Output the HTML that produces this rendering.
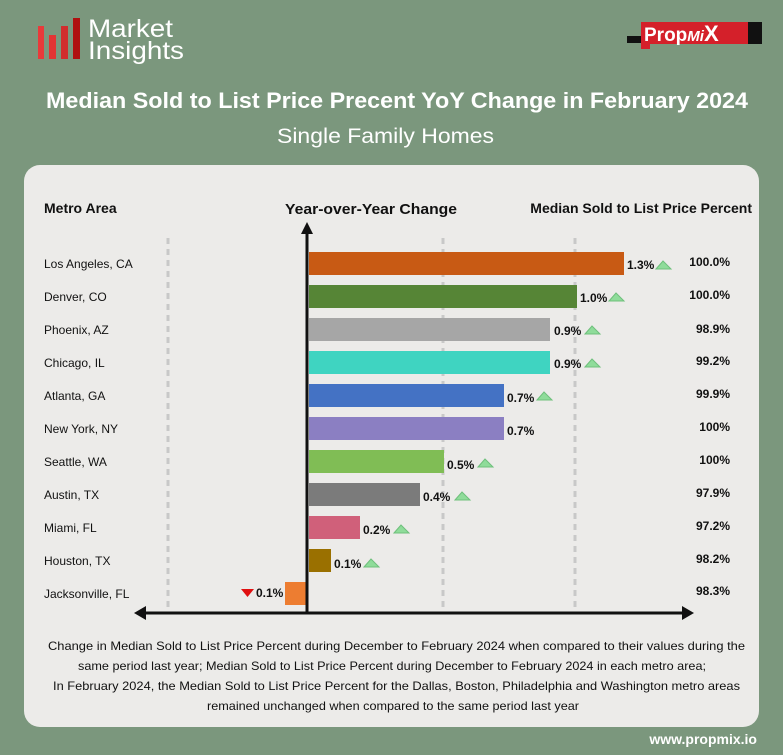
<!DOCTYPE html>
<html><head><meta charset="utf-8"><style>
html,body{margin:0;padding:0;width:783px;height:755px;overflow:hidden;background:#7b977d;}
svg{display:block;font-family:"Liberation Sans",sans-serif;}
</style></head><body>
<svg width="783" height="755" viewBox="0 0 783 755" xmlns="http://www.w3.org/2000/svg">
<rect width="783" height="755" fill="#7b977d"/>
<!-- logo -->
<rect x="38" y="26" width="6" height="33" fill="#e83a3a"/>
<rect x="49" y="35" width="7" height="24" fill="#e23434"/>
<rect x="61" y="26" width="7" height="33" fill="#d12d2d"/>
<rect x="73" y="18" width="7" height="41" fill="#b01010"/>
<text x="88" y="37" font-size="25" fill="#fff" textLength="85" lengthAdjust="spacingAndGlyphs">Market</text>
<text x="88" y="59" font-size="25" fill="#fff" textLength="96" lengthAdjust="spacingAndGlyphs">Insights</text>
<!-- propmix -->
<rect x="627" y="36" width="14" height="7" fill="#111"/>
<rect x="748" y="22" width="14" height="22" fill="#111"/>
<rect x="641" y="22" width="107" height="22" fill="#d4202a"/>
<rect x="641" y="44" width="9" height="5" fill="#d4202a"/>
<text x="644" y="41" font-size="19" font-weight="bold" fill="#fff">Prop<tspan font-style="italic" font-size="15">Mi</tspan><tspan font-size="22">X</tspan></text>
<!-- titles -->
<text x="46" y="108" font-size="22" font-weight="bold" fill="#fff" textLength="702" lengthAdjust="spacingAndGlyphs">Median Sold to List Price Precent YoY Change in February 2024</text>
<text x="277" y="143" font-size="21" fill="#fff" textLength="217" lengthAdjust="spacingAndGlyphs">Single Family Homes</text>
<!-- card -->
<rect x="24" y="165" width="735" height="562" rx="16" fill="#ecebe9"/>
<text x="44" y="213" font-size="14" font-weight="bold" fill="#111">Metro Area</text>
<text x="285" y="214" font-size="15" font-weight="bold" fill="#111" textLength="172" lengthAdjust="spacingAndGlyphs">Year-over-Year Change</text>
<text x="752" y="213" font-size="14" font-weight="bold" fill="#111" text-anchor="end">Median Sold to List Price Percent</text>
<g stroke="#c8c8c8" stroke-width="3" stroke-dasharray="6,5">
<line x1="168" y1="238" x2="168" y2="610"/>
<line x1="443" y1="238" x2="443" y2="610"/>
<line x1="575" y1="238" x2="575" y2="610"/>
</g>
<g font-size="12" fill="#111">
<text x="44" y="268">Los Angeles, CA</text>
<text x="44" y="301">Denver, CO</text>
<text x="44" y="334">Phoenix, AZ</text>
<text x="44" y="367">Chicago, IL</text>
<text x="44" y="400">Atlanta, GA</text>
<text x="44" y="433">New York, NY</text>
<text x="44" y="466">Seattle, WA</text>
<text x="44" y="499">Austin, TX</text>
<text x="44" y="532">Miami, FL</text>
<text x="44" y="565">Houston, TX</text>
<text x="44" y="598">Jacksonville, FL</text>
</g>
<g>
<rect x="309" y="252" width="315" height="23" fill="#c85a14"/>
<rect x="309" y="285" width="268" height="23" fill="#568536"/>
<rect x="309" y="318" width="241" height="23" fill="#a6a6a6"/>
<rect x="309" y="351" width="241" height="23" fill="#3fd4c1"/>
<rect x="309" y="384" width="195" height="23" fill="#4472c4"/>
<rect x="309" y="417" width="195" height="23" fill="#8b7fc2"/>
<rect x="309" y="450" width="135" height="23" fill="#80bd55"/>
<rect x="309" y="483" width="111" height="23" fill="#7b7b7b"/>
<rect x="309" y="516" width="51" height="23" fill="#d0607a"/>
<rect x="309" y="549" width="22" height="23" fill="#9a7000"/>
<rect x="285" y="582" width="21" height="23" fill="#ed7d31"/>
</g>
<g font-size="12" font-weight="bold" fill="#111">
<text x="627" y="269">1.3%</text>
<text x="580" y="302">1.0%</text>
<text x="554" y="335">0.9%</text>
<text x="554" y="368">0.9%</text>
<text x="507" y="402">0.7%</text>
<text x="507" y="435">0.7%</text>
<text x="447" y="469">0.5%</text>
<text x="423" y="501">0.4%</text>
<text x="363" y="534">0.2%</text>
<text x="334" y="568">0.1%</text>
<text x="256" y="597">0.1%</text>
</g>
<g fill="#8fdc9a" stroke="#6fc07c" stroke-width="1">
<polygon points="656,269 663,261 671,269"/>
<polygon points="609,301 616,293 624,301"/>
<polygon points="585,334 592,326 600,334"/>
<polygon points="585,367 592,359 600,367"/>
<polygon points="537,400 544,392 552,400"/>
<polygon points="478,467 485,459 493,467"/>
<polygon points="455,500 462,492 470,500"/>
<polygon points="394,533 401,525 409,533"/>
<polygon points="364,567 371,559 379,567"/>
</g>
<polygon points="241,589 254,589 247.5,597" fill="#e01010"/>
<g font-size="12" font-weight="bold" fill="#111" text-anchor="end">
<text x="730" y="266">100.0%</text>
<text x="730" y="299">100.0%</text>
<text x="730" y="333">98.9%</text>
<text x="730" y="365">99.2%</text>
<text x="730" y="398">99.9%</text>
<text x="730" y="431">100%</text>
<text x="730" y="464">100%</text>
<text x="730" y="497">97.9%</text>
<text x="730" y="530">97.2%</text>
<text x="730" y="563">98.2%</text>
<text x="730" y="595">98.3%</text>
</g>
<!-- axes -->
<line x1="307" y1="232" x2="307" y2="613" stroke="#111" stroke-width="3"/>
<polygon points="301,234 307,222 313,234" fill="#111"/>
<line x1="142" y1="613" x2="688" y2="613" stroke="#111" stroke-width="3"/>
<polygon points="134,613 146,606 146,620" fill="#111"/>
<polygon points="694,613 682,606 682,620" fill="#111"/>
<g font-size="12" fill="#111">
<text x="48" y="650" textLength="697" lengthAdjust="spacingAndGlyphs">Change in Median Sold to List Price Percent during December to February 2024 when compared to their values during the</text>
<text x="78" y="670" textLength="628" lengthAdjust="spacingAndGlyphs">same period last year; Median Sold to List Price Percent during December to February 2024 in each metro area;</text>
<text x="53" y="690" textLength="687" lengthAdjust="spacingAndGlyphs">In February 2024, the Median Sold to List Price Percent for the Dallas, Boston, Philadelphia and Washington metro areas</text>
<text x="207" y="710" textLength="372" lengthAdjust="spacingAndGlyphs">remained unchanged when compared to the same period last year</text>
</g>
<text x="757" y="744" font-size="14" font-weight="bold" fill="#fff" text-anchor="end">www.propmix.io</text>
</svg>
</body></html>
